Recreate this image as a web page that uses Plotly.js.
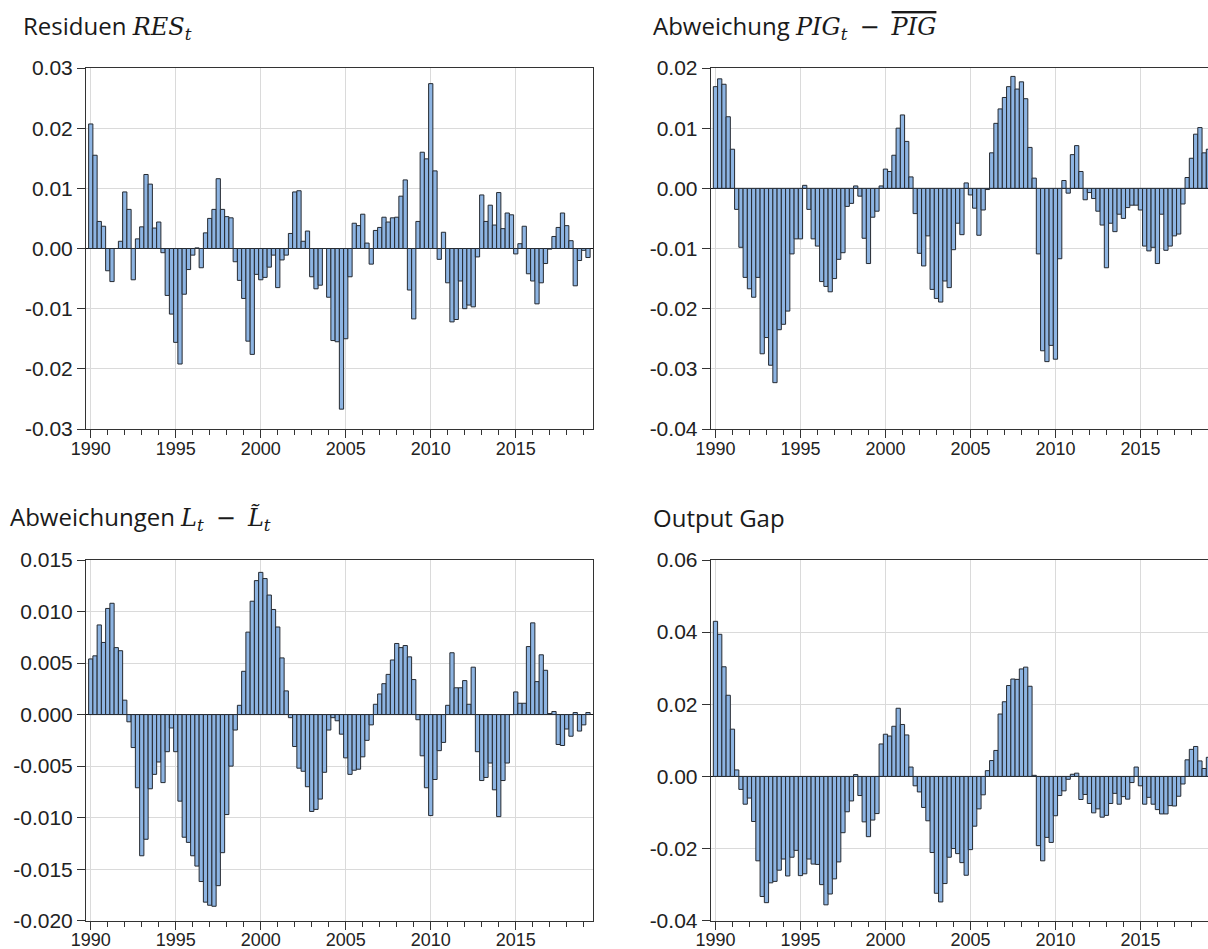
<!DOCTYPE html>
<html>
<head>
<meta charset="utf-8">
<script src="https://cdn.plot.ly/plotly-3.0.1.min.js"></script>
<style>
  html, body { margin: 0; padding: 0; background: #ffffff; overflow: hidden; }
  #chart { width: 1220px; height: 949px; }
</style>
</head>
<body>
<div id="chart"></div>
<script>
// Quarterly series, 1990Q1 onwards
const startYear = 1990;

const residuals = [
  0.0207, 0.0155, 0.0045, 0.0037, -0.0037, -0.0055, 0.0000, 0.0012, 0.0094, 0.0065,
  -0.0052, 0.0016, 0.0036, 0.0123, 0.0107, 0.0034, 0.0044, -0.0007, -0.0078, -0.0109,
  -0.0156, -0.0192, -0.0076, -0.0035, -0.0011, 0.0001, -0.0032, 0.0026, 0.0050, 0.0065,
  0.0116, 0.0065, 0.0053, 0.0051, -0.0022, -0.0053, -0.0083, -0.0154, -0.0176, -0.0043,
  -0.0052, -0.0048, -0.0031, -0.0011, -0.0065, -0.0019, -0.0011, 0.0025, 0.0094, 0.0096,
  0.0012, 0.0029, -0.0047, -0.0067, -0.0061, 0.0000, -0.0081, -0.0153, -0.0155, -0.0267,
  -0.0150, -0.0047, 0.0042, 0.0038, 0.0057, 0.0009, -0.0026, 0.0030, 0.0035, 0.0052,
  0.0044, 0.0051, 0.0052, 0.0087, 0.0114, -0.0069, -0.0117, 0.0045, 0.0160, 0.0149,
  0.0274, 0.0129, -0.0018, 0.0027, -0.0057, -0.0122, -0.0118, -0.0054, -0.0100, -0.0094,
  -0.0097, -0.0014, 0.0089, 0.0045, 0.0072, 0.0039, 0.0093, 0.0033, 0.0059, 0.0056,
  -0.0009, 0.0008, 0.0037, -0.0042, -0.0054, -0.0092, -0.0057, -0.0025, -0.0001, 0.0020,
  0.0035, 0.0059, 0.0038, 0.0013, -0.0062, -0.0020, -0.0003, -0.0015
];

const pigDeviation = [
  0.0169, 0.0182, 0.0173, 0.0119, 0.0065, -0.0035, -0.0098, -0.0148, -0.0167, -0.0181,
  -0.0148, -0.0275, -0.0248, -0.0294, -0.0323, -0.0235, -0.0226, -0.0204, -0.0109, -0.0084,
  -0.0084, 0.0005, -0.0035, -0.0084, -0.0096, -0.0155, -0.0163, -0.0172, -0.0150, -0.0118,
  -0.0107, -0.0030, -0.0025, 0.0004, -0.0013, -0.0083, -0.0125, -0.0048, -0.0038, 0.0004,
  0.0032, 0.0028, 0.0055, 0.0100, 0.0122, 0.0078, 0.0019, -0.0042, -0.0108, -0.0129,
  -0.0079, -0.0168, -0.0183, -0.0189, -0.0154, -0.0165, -0.0102, -0.0058, -0.0077, 0.0009,
  -0.0011, -0.0033, -0.0078, -0.0036, -0.0002, 0.0059, 0.0108, 0.0132, 0.0151, 0.0169,
  0.0186, 0.0165, 0.0177, 0.0149, 0.0068, 0.0017, -0.0109, -0.0270, -0.0288, -0.0261,
  -0.0284, -0.0117, 0.0013, -0.0008, 0.0056, 0.0071, 0.0028, -0.0019, -0.0007, -0.0017,
  -0.0038, -0.0061, -0.0132, -0.0058, -0.0072, -0.0043, -0.0050, -0.0032, -0.0028, -0.0028,
  -0.0036, -0.0096, -0.0104, -0.0098, -0.0125, -0.0043, -0.0103, -0.0096, -0.0079, -0.0076,
  -0.0026, 0.0018, 0.0050, 0.0090, 0.0101, 0.0059, 0.0065
];

const laborDeviation = [
  0.0054, 0.0057, 0.0087, 0.0070, 0.0103, 0.0108, 0.0065, 0.0062, 0.0014, -0.0007,
  -0.0032, -0.0071, -0.0137, -0.0121, -0.0072, -0.0058, -0.0046, -0.0066, -0.0036, -0.0013,
  -0.0036, -0.0084, -0.0119, -0.0124, -0.0137, -0.0147, -0.0162, -0.0182, -0.0185, -0.0186,
  -0.0166, -0.0134, -0.0097, -0.0050, -0.0015, 0.0009, 0.0042, 0.0080, 0.0110, 0.0130,
  0.0138, 0.0132, 0.0116, 0.0102, 0.0085, 0.0055, 0.0023, -0.0003, -0.0031, -0.0052,
  -0.0055, -0.0070, -0.0094, -0.0092, -0.0082, -0.0056, -0.0015, -0.0003, -0.0006, -0.0019,
  -0.0042, -0.0058, -0.0054, -0.0053, -0.0041, -0.0025, -0.0010, 0.0010, 0.0020, 0.0030,
  0.0039, 0.0053, 0.0069, 0.0065, 0.0067, 0.0056, 0.0034, -0.0005, -0.0040, -0.0071,
  -0.0098, -0.0063, -0.0035, -0.0027, 0.0009, 0.0060, 0.0026, 0.0026, 0.0033, 0.0010,
  0.0046, -0.0036, -0.0064, -0.0061, -0.0047, -0.0073, -0.0099, -0.0064, -0.0047, 0.0000,
  0.0022, 0.0011, 0.0011, 0.0066, 0.0089, 0.0032, 0.0058, 0.0043, 0.0001, 0.0003,
  -0.0029, -0.0030, -0.0014, -0.0021, 0.0002, -0.0016, -0.0010, 0.0002
];

const outputGap = [
  0.0430, 0.0394, 0.0304, 0.0225, 0.0131, 0.0018, -0.0036, -0.0077, -0.0060, -0.0125,
  -0.0234, -0.0333, -0.0350, -0.0295, -0.0291, -0.0260, -0.0229, -0.0276, -0.0224, -0.0205,
  -0.0275, -0.0270, -0.0229, -0.0243, -0.0244, -0.0300, -0.0356, -0.0326, -0.0284, -0.0237,
  -0.0156, -0.0098, -0.0068, 0.0005, -0.0053, -0.0126, -0.0167, -0.0121, -0.0103, 0.0090,
  0.0117, 0.0112, 0.0139, 0.0189, 0.0144, 0.0115, 0.0026, -0.0026, -0.0043, -0.0086,
  -0.0123, -0.0211, -0.0324, -0.0348, -0.0297, -0.0224, -0.0200, -0.0214, -0.0239, -0.0274,
  -0.0203, -0.0138, -0.0090, -0.0051, 0.0016, 0.0044, 0.0072, 0.0173, 0.0207, 0.0252,
  0.0270, 0.0269, 0.0298, 0.0303, 0.0250, 0.0003, -0.0192, -0.0234, -0.0169, -0.0183,
  -0.0109, -0.0053, -0.0040, -0.0008, 0.0006, 0.0009, -0.0064, -0.0050, -0.0075, -0.0101,
  -0.0090, -0.0113, -0.0108, -0.0075, -0.0047, -0.0077, -0.0056, -0.0063, -0.0017, 0.0026,
  -0.0026, -0.0077, -0.0058, -0.0077, -0.0092, -0.0104, -0.0104, -0.0081, -0.0082, -0.0055,
  -0.0021, 0.0046, 0.0075, 0.0083, 0.0043, 0.0022, 0.0053
];

// Y tick values per panel
const yTicksRes = [-0.03, -0.02, -0.01, 0.00, 0.01, 0.02, 0.03];
const yTicksPig = [-0.04, -0.03, -0.02, -0.01, 0.00, 0.01, 0.02];
const yTicksLab = [-0.020, -0.015, -0.010, -0.005, 0.000, 0.005, 0.010, 0.015];
const yTicksGap = [-0.04, -0.02, 0.00, 0.02, 0.04, 0.06];

// Panel titles (formula parts set in a serif italic)
const MATH = 'font-family:DejaVu Serif;font-style:italic';
const MINUS = '\u2002<span style="font-family:DejaVu Serif">\u2212</span>\u2002';
const titleRes = 'Residuen <span style="' + MATH + '">RES<sub>t</sub></span>';
const titlePig = 'Abweichung <span style="' + MATH + '">PIG<sub>t</sub></span>' + MINUS +
                 '<span style="' + MATH + ';text-decoration:overline">PIG</span>';
const titleLab = 'Abweichungen <span style="' + MATH + '">L<sub>t</sub></span>' + MINUS +
                 '<span style="' + MATH + '">L\u0303<sub>t</sub></span>';
const titleGap = 'Output Gap';

// ---- geometry (pixels on a 1220 x 949 canvas) ----
const W = 1220, H = 949;
const px = v => v / W;
const py = v => 1 - v / H;

const quarterX = n => Array.from({length: n}, (_, i) => startYear + i / 4);

const barStyle = {
  color: '#8db4e2',
  line: { color: '#252a31', width: 1 }
};

function bars(values, xa, ya) {
  return {
    type: 'bar',
    x: quarterX(values.length),
    y: values,
    xaxis: xa,
    yaxis: ya,
    marker: barStyle,
    hoverinfo: 'skip'
  };
}

const xRange = [1989.72, 2019.545];

function xAxis(domain, anchor) {
  return {
    domain: domain,
    anchor: anchor,
    range: xRange,
    tickmode: 'linear',
    tick0: 1990,
    dtick: 5,
    ticks: 'outside',
    ticklen: 8,
    tickwidth: 1,
    tickcolor: '#333333',
    ticklabelstandoff: -5,
    minor: { dtick: 1, tick0: 1990, ticks: 'outside', ticklen: 5, tickwidth: 1, tickcolor: '#333333', showgrid: false },
    showgrid: true,
    gridcolor: '#dadada',
    gridwidth: 1,
    zeroline: false,
    showline: true,
    linecolor: '#333333',
    linewidth: 1,
    mirror: true,
    tickfont: { family: 'Liberation Sans', size: 18, color: '#222222' },
    fixedrange: true
  };
}

function yAxis(domain, anchor, vals, digits) {
  return {
    domain: domain,
    anchor: anchor,
    range: [vals[0], vals[vals.length - 1]],
    tickmode: 'array',
    tickvals: vals,
    ticktext: vals.map(v => v.toFixed(digits)),
    ticks: 'outside',
    ticklen: 8,
    tickwidth: 1,
    tickcolor: '#333333',
    showgrid: true,
    gridcolor: '#dadada',
    gridwidth: 1,
    zeroline: true,
    zerolinecolor: '#111111',
    zerolinewidth: 1,
    showline: true,
    linecolor: '#333333',
    linewidth: 1,
    mirror: true,
    tickfont: { family: 'Liberation Sans', size: 21, color: '#222222' },
    fixedrange: true
  };
}

const leftCol = [px(86), px(593)];
const rightCol = [px(710.7), px(1217.7)];
const topRow = [py(429), py(68)];
const bottomRow = [py(920.7), py(560)];

const data = [
  bars(residuals, 'x', 'y'),
  bars(pigDeviation, 'x2', 'y2'),
  bars(laborDeviation, 'x3', 'y3'),
  bars(outputGap, 'x4', 'y4')
];

function title(text, left, middle) {
  return {
    text: text,
    xref: 'paper', yref: 'paper',
    x: px(left), y: py(middle),
    xanchor: 'left', yanchor: 'middle',
    showarrow: false,
    align: 'left',
    font: { family: 'Open Sans', size: 24, color: '#1a1a1a' }
  };
}

const layout = {
  width: W,
  height: H,
  margin: { l: 0, r: 0, t: 0, b: 0 },
  paper_bgcolor: '#ffffff',
  plot_bgcolor: '#ffffff',
  showlegend: false,
  bargap: 0,
  hovermode: false,
  xaxis: xAxis(leftCol, 'y'),
  yaxis: yAxis(topRow, 'x', yTicksRes, 2),
  xaxis2: xAxis(rightCol, 'y2'),
  yaxis2: yAxis(topRow, 'x2', yTicksPig, 2),
  xaxis3: xAxis(leftCol, 'y3'),
  yaxis3: yAxis(bottomRow, 'x3', yTicksLab, 3),
  xaxis4: xAxis(rightCol, 'y4'),
  yaxis4: yAxis(bottomRow, 'x4', yTicksGap, 2),
  annotations: [
    title(titleRes, 21, 26),
    title(titlePig, 651, 26),
    title(titleLab, 8, 517),
    title(titleGap, 651, 517)
  ]
};

Plotly.newPlot('chart', data, layout, { staticPlot: true, displayModeBar: false });
</script>
</body>
</html>
